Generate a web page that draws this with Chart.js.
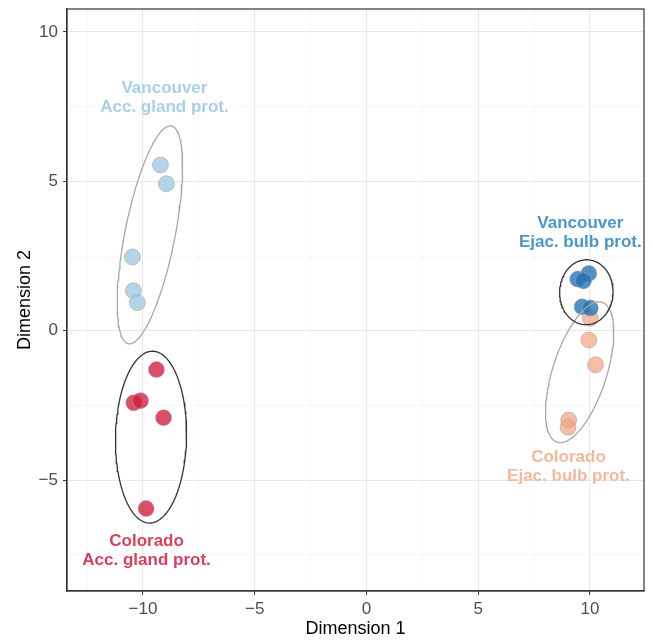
<!DOCTYPE html>
<html>
<head>
<meta charset="utf-8">
<script src="https://cdn.jsdelivr.net/npm/chart.js@4/dist/chart.umd.min.js"></script>
<style>
  html, body { margin: 0; padding: 0; background: #fff; }
  #wrap { width: 653px; height: 640px; }
</style>
</head>
<body>
<div id="wrap"><canvas id="chart" width="653" height="640"></canvas></div>
<script>
/* ── Data: MDS of seminal proteins ── */
const groupNames = ['Vancouver Acc. gland prot.', 'Colorado Acc. gland prot.', 'Vancouver Ejac. bulb prot.', 'Colorado Ejac. bulb prot.'];

const vanAccX = [-9.22, -8.95, -10.47, -10.43, -10.25];
const vanAccY = [5.55, 4.92, 2.47, 1.34, 0.94];

const colAccX = [-9.40, -10.41, -10.11, -9.08, -9.86];
const colAccY = [-1.30, -2.41, -2.34, -2.91, -5.95];

const vanEjaX = [9.45, 9.95, 9.71, 9.65, 10.02];
const vanEjaY = [1.73, 1.92, 1.67, 0.80, 0.76];

const colEjaX = [10.02, 9.95, 10.25, 9.05, 9.02];
const colEjaY = [0.42, -0.31, -1.14, -2.99, -3.23];

// Ellipses (center + two conjugate half-axes, data units)
const ellCx = [-9.69, -9.64, 9.84, 9.54];
const ellCy = [3.21, -3.56, 1.29, -1.39];
const ellUx = [0.962, 0.076, 0.045, 1.007];
const ellUy = [3.645, 2.876, 1.087, 2.341];
const ellVx = [1.10, 1.588, 1.195, 1.150];
const ellVy = [-0.162, -0.023, -0.027, -0.276];
const ellColors = ['#a8a8a8', '#333333', '#333333', '#a8a8a8'];

// Group labels
const labelX = [-9.04, -9.84, 9.57, 9.04];
const labelY = [8.13, -7.06, 3.61, -4.25];
const labelLines = [
  ['Vancouver', 'Acc. gland prot.'],
  ['Colorado', 'Acc. gland prot.'],
  ['Vancouver', 'Ejac. bulb prot.'],
  ['Colorado', 'Ejac. bulb prot.']
];
const labelColors = ['#a9d0e6', '#d9405c', '#4b97c9', '#f5b89d'];

const pointFill = ['rgba(166,206,227,0.85)', 'rgba(208,28,60,0.78)', 'rgba(33,113,181,0.78)', 'rgba(244,165,130,0.72)'];

const xTicks = [-12.5, -10, -7.5, -5, -2.5, 0, 2.5, 5, 7.5, 10, 12.5];
const yTicks = [-7.5, -5, -2.5, 0, 2.5, 5, 7.5, 10];
const xRange = [-13.40, 12.42];
const yRange = [-8.71, 10.77];

const FONT = '"Liberation Sans", Arial, Helvetica, sans-serif';

const isMajor = (v) => Math.abs(v % 5) < 1e-9;
const fmt = (v) => (v < 0 ? '\u2212' + Math.abs(v) : String(v));

function pts(xs, ys) {
  return xs.map((x, i) => ({ x, y: ys[i] }));
}

function ellipsePts(i) {
  const out = [];
  for (let k = 0; k <= 120; k++) {
    const t = (k / 120) * Math.PI * 2;
    out.push({
      x: ellCx[i] + ellUx[i] * Math.cos(t) + ellVx[i] * Math.sin(t),
      y: ellCy[i] + ellUy[i] * Math.cos(t) + ellVy[i] * Math.sin(t)
    });
  }
  return out;
}

const seriesX = [vanAccX, colAccX, vanEjaX, colEjaX];
const seriesY = [vanAccY, colAccY, vanEjaY, colEjaY];

const datasets = [];
seriesX.forEach((xs, i) => {
  datasets.push({
    label: groupNames[i],
    data: pts(xs, seriesY[i]),
    backgroundColor: pointFill[i],
    borderColor: 'rgba(160,160,160,0.55)',
    borderWidth: 1,
    pointRadius: 8,
    order: 2
  });
});
seriesX.forEach((_, i) => {
  datasets.push({
    label: 'ellipse ' + i,
    data: ellipsePts(i),
    showLine: true,
    borderColor: ellColors[i],
    borderWidth: 1.3,
    pointRadius: 0,
    fill: false,
    order: 1
  });
});

// Panel border + group labels
const panelPlugin = {
  id: 'panel',
  afterDatasetsDraw(chart) {
    const { ctx, chartArea, scales } = chart;
    ctx.save();
    ctx.font = `bold 17px ${FONT}`;
    ctx.textAlign = 'center';
    ctx.textBaseline = 'middle';
    labelLines.forEach((lines, i) => {
      const px = scales.x.getPixelForValue(labelX[i]);
      const py = scales.y.getPixelForValue(labelY[i]);
      ctx.fillStyle = labelColors[i];
      lines.forEach((txt, j) => ctx.fillText(txt, px, py + j * 19));
    });
    ctx.strokeStyle = '#333';
    ctx.lineWidth = 1.2;
    ctx.strokeRect(chartArea.left, chartArea.top, chartArea.right - chartArea.left, chartArea.bottom - chartArea.top);
    ctx.restore();
  }
};

const gridOpts = {
  color: (c) => (isMajor(c.tick.value) ? '#e8e8e8' : '#f3f3f3'),
  lineWidth: (c) => (isMajor(c.tick.value) ? 1.1 : 0.6),
  tickColor: (c) => (isMajor(c.tick.value) ? '#333' : 'rgba(0,0,0,0)'),
  tickLength: 4,
  tickWidth: 1
};

new Chart(document.getElementById('chart'), {
  type: 'scatter',
  data: { datasets },
  options: {
    responsive: false,
    animation: false,
    layout: { padding: { left: 0, top: 8, right: 5, bottom: 0 } },
    plugins: { legend: { display: false }, tooltip: { enabled: false } },
    scales: {
      x: {
        type: 'linear',
        min: xRange[0],
        max: xRange[1],
        afterBuildTicks: (s) => { s.ticks = xTicks.filter(v => v >= s.min && v <= s.max).map(v => ({ value: v })); },
        afterFit: (s) => { s.height = 49; s.paddingLeft = 0; s.paddingRight = 0; },
        grid: gridOpts,
        border: { display: true, color: '#333', width: 1.2 },
        ticks: {
          autoSkip: false,
          maxRotation: 0,
          padding: 4,
          color: '#4d4d4d',
          font: { family: FONT, size: 17 },
          callback: (v) => (isMajor(v) ? fmt(v) : '')
        },
        title: {
          display: true,
          text: 'Dimension 1',
          color: '#000',
          font: { family: FONT, size: 18 },
          padding: { top: 2, bottom: 0 }
        }
      },
      y: {
        type: 'linear',
        min: yRange[0],
        max: yRange[1],
        afterBuildTicks: (s) => { s.ticks = yTicks.map(v => ({ value: v })); },
        afterFit: (s) => { s.width = 67; s.paddingTop = 0; s.paddingBottom = 0; },
        grid: gridOpts,
        border: { display: true, color: '#333', width: 1.2 },
        ticks: {
          autoSkip: false,
          padding: 5,
          color: '#4d4d4d',
          font: { family: FONT, size: 17 },
          callback: (v) => (isMajor(v) ? fmt(v) : '')
        },
        title: {
          display: true,
          text: 'Dimension 2',
          color: '#000',
          font: { family: FONT, size: 18 },
          padding: { top: 14, bottom: 0 }
        }
      }
    }
  },
  plugins: [panelPlugin]
});
</script>
</body>
</html>
